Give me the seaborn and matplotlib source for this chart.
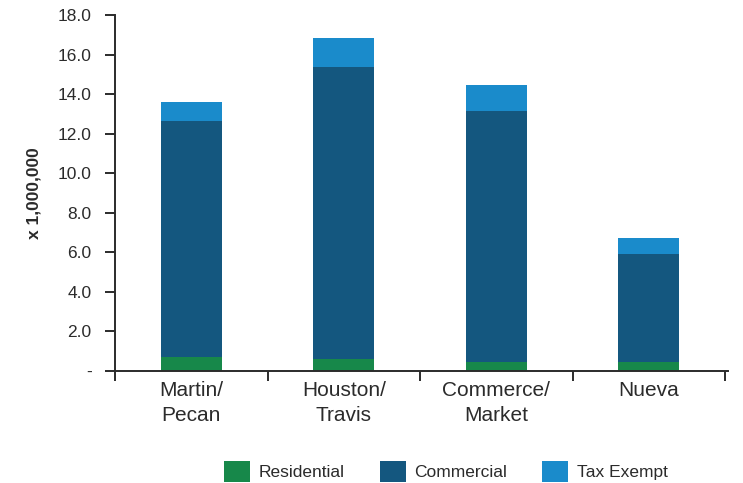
import matplotlib
matplotlib.use("Agg")
import matplotlib.pyplot as plt
from matplotlib.patches import Patch
import numpy as np
import pandas as pd
import seaborn as sns

# Property value by district, in millions
districts = ["Martin/\nPecan", "Houston/\nTravis", "Commerce/\nMarket", "Nueva"]
residential = [0.72, 0.61, 0.44, 0.44]
commercial = [11.90, 14.74, 12.69, 5.46]
tax_exempt = [0.96, 1.50, 1.34, 0.84]

series_names = ["Residential", "Commercial", "Tax Exempt"]
series_colors = ["#17884a", "#14577f", "#1a8bcb"]

y_ticks = [0, 2, 4, 6, 8, 10, 12, 14, 16, 18]
y_tick_labels = ["-"] + [f"{v:.1f}" for v in y_ticks[1:]]

sns.set_theme(style="white")
plt.rcParams["font.family"] = ["Liberation Sans", "DejaVu Sans"]
text_color = "#2b2b2b"

res = np.array(residential)
com = np.array(commercial)
tax = np.array(tax_exempt)
df = pd.DataFrame({
    "district": districts,
    "total": res + com + tax,
    "res_com": res + com,
    "res": res,
})

fig = plt.figure(figsize=(7.43, 4.83), dpi=100)
ax = fig.add_axes([0.155, 0.232, 0.825, 0.737])

# Stacked bars: draw cumulative heights from tallest to shortest
for col, color in zip(["total", "res_com", "res"], series_colors[::-1]):
    sns.barplot(data=df, x="district", y=col, color=color, width=0.4,
                saturation=1, ax=ax, linewidth=0)

ax.set_ylim(0, 18)
ax.set_xlim(-0.5, 3.52)
ax.set_yticks(y_ticks)
ax.set_yticklabels(y_tick_labels)
ax.set_ylabel("x 1,000,000", fontsize=12.5, fontweight="bold",
              color=text_color, labelpad=12)
ax.set_xlabel("")

# x ticks sit on the boundaries between categories
ax.set_xticks([-0.5, 0.5, 1.5, 2.5, 3.5])
ax.set_xticklabels([])
ax.set_xticks(range(len(districts)), minor=True)
ax.set_xticklabels(districts, minor=True, fontsize=15, color=text_color)
ax.tick_params(axis="x", which="minor", bottom=False, length=0, pad=7)
ax.tick_params(axis="x", which="major", bottom=True, direction="out",
               length=7, width=1.4, color=text_color)
ax.tick_params(axis="y", left=True, direction="out", length=7, width=1.4,
               color=text_color, labelsize=12.5, labelcolor=text_color, pad=10)
for lbl in ax.get_xticklabels(minor=True):
    lbl.set_linespacing(1.45)

for side in ["top", "right"]:
    ax.spines[side].set_visible(False)
for side in ["left", "bottom"]:
    ax.spines[side].set_color(text_color)
    ax.spines[side].set_linewidth(1.4)

handles = [Patch(facecolor=c, edgecolor="none", label=n)
           for n, c in zip(series_names, series_colors)]
fig.legend(handles=handles, loc="lower center", bbox_to_anchor=(0.6, -0.03),
           ncol=3, frameon=False, fontsize=12.5, handlelength=1.5,
           handleheight=1.5, columnspacing=2.0, handletextpad=0.5,
           labelcolor=text_color)

fig.savefig("out.png", dpi=100)
